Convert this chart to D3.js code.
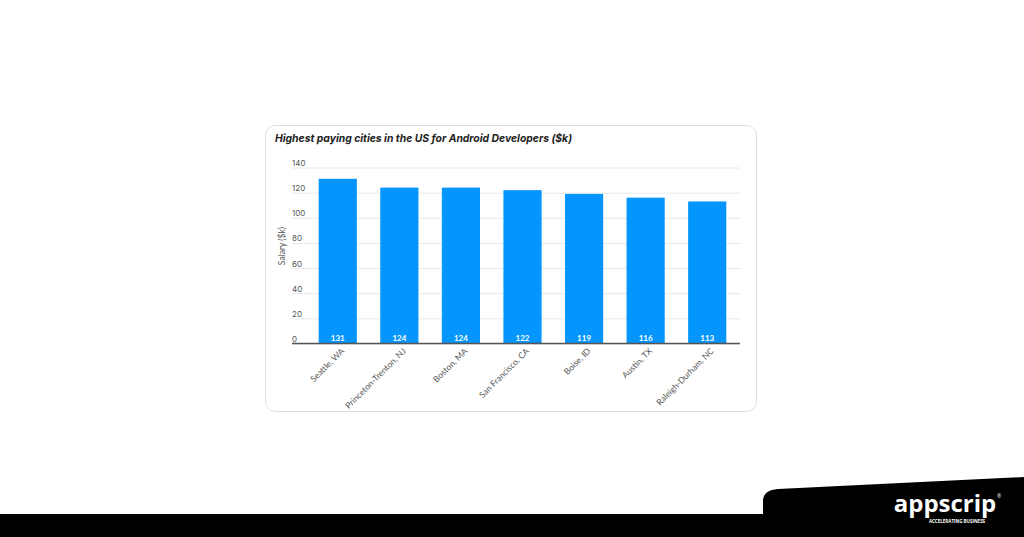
<!DOCTYPE html>
<html><head><meta charset="utf-8">
<script src="https://cdn.jsdelivr.net/npm/d3@7"></script>
<style>
html,body{margin:0;padding:0;background:#fff;}
svg{display:block;}
</style></head>
<body>
<svg id="c" width="1024" height="537"></svg>
<script>
const cities = ["Seattle, WA","Princeton-Trenton, NJ","Boston, MA","San Francisco, CA","Boise, ID","Austin, TX","Raleigh-Durham, NC"];
const salaries = [131,124,124,122,119,116,113];
const yTicks = [0,20,40,60,80,100,120,140];
const title = "Highest paying cities in the US for Android Developers ($k)";
const yTitle = "Salary ($k)";

const svg = d3.select("#c");

// card
svg.append("rect").attr("x",265.5).attr("y",125.5).attr("width",491).attr("height",286)
  .attr("rx",10).attr("fill","#fff").attr("stroke","#dcdcdc").attr("stroke-width",1);

svg.append("text").attr("x",275).attr("y",142).text(title)
  .attr("font-family","Inter, 'DejaVu Sans', sans-serif").attr("font-weight",700).attr("font-style","italic")
  .attr("font-size",11).attr("fill","#222").attr("textLength",297).attr("lengthAdjust","spacingAndGlyphs");

const y = d3.scaleLinear().domain([0,140]).range([343.5,167.5]);
const x = d3.scaleBand().domain(cities).range([307,738]).paddingInner(0.38).paddingOuter(0.19);

// gridlines
const ga = svg.append("g").attr("transform","translate(292,0)")
  .call(d3.axisRight(y).tickValues(yTicks).tickSize(448).tickFormat(""));
ga.select(".domain").remove();
ga.selectAll(".tick line").attr("stroke","#e8e8e8").attr("stroke-width",1);

const gl = svg.append("g").attr("transform","translate(292,0)")
  .call(d3.axisRight(y).tickValues(yTicks).tickSize(0).tickPadding(0).tickFormat(d=>d));
gl.select(".domain").remove();
gl.selectAll(".tick text").attr("dy","-2").attr("text-anchor","start")
  .attr("font-family","Inter, 'Open Sans', sans-serif").attr("font-size",8).attr("fill","#555");

svg.append("text").attr("transform","translate(285,246) rotate(-90)").attr("text-anchor","middle")
  .text(yTitle).attr("font-family","Lato, sans-serif").attr("font-size",8.5).attr("fill","#555");

// bars
svg.append("g").selectAll("rect").data(salaries).join("rect")
  .attr("x",(d,i)=>x(cities[i])).attr("width",x.bandwidth())
  .attr("y",d=>y(d)).attr("height",d=>y(0)-y(d)).attr("fill","#0496fc");

svg.append("g").selectAll("text").data(salaries).join("text")
  .attr("x",(d,i)=>x(cities[i])+x.bandwidth()/2).attr("y",y(0)-2.5)
  .attr("text-anchor","middle").text(d=>d)
  .attr("font-family","Lato, sans-serif").attr("font-weight",700).attr("font-size",8).attr("fill","#fff");

// x axis
const gx = svg.append("g").attr("transform",`translate(0,${y(0)})`)
  .call(d3.axisBottom(x).tickSize(0).tickSizeOuter(0));
gx.select(".domain").remove();
gx.selectAll(".tick text").attr("text-anchor","end")
  .attr("transform","translate(5,6) rotate(-45)").attr("dy","0.35em").attr("y",0)
  .attr("font-family","Lato, sans-serif").attr("font-size",8.5).attr("fill","#555");
svg.append("line").attr("x1",292).attr("x2",740).attr("y1",y(0)).attr("y2",y(0))
  .attr("stroke","#555").attr("stroke-width",1.5);

// footer band
svg.append("rect").attr("x",0).attr("y",514).attr("width",1024).attr("height",23).attr("fill","#000");
svg.append("path").attr("d","M763,514 L763,500 Q764,490 778,489 L1024,477 L1024,514 Z").attr("fill","#000");
svg.append("text").attr("x",945).attr("y",512).attr("text-anchor","middle").text("appscrip")
  .attr("font-family","'Open Sans', sans-serif").attr("font-weight",700).attr("font-size",24).attr("fill","#fff");
svg.append("text").attr("x",957).attr("y",523).attr("text-anchor","middle").text("ACCELERATING BUSINESS")
  .attr("font-family","'Open Sans', sans-serif").attr("font-weight",700).attr("font-size",4.5).attr("fill","#fff");
svg.append("text").attr("x",997).attr("y",498).text("®")
  .attr("font-family","'Open Sans', sans-serif").attr("font-size",5).attr("fill","#fff");
</script>
</body></html>
